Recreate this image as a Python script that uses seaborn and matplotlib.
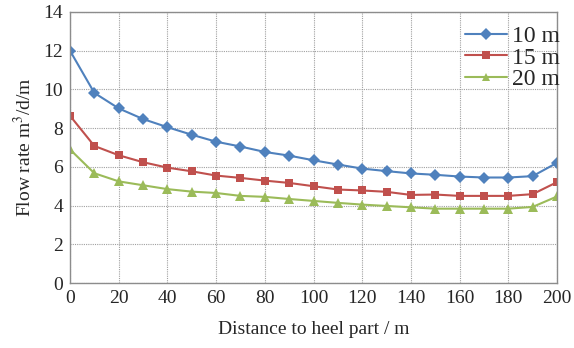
import matplotlib
matplotlib.use("Agg")
import matplotlib.pyplot as plt
import seaborn as sns
import pandas as pd

# --- data ---
distance = [0, 10, 20, 30, 40, 50, 60, 70, 80, 90, 100,
            110, 120, 130, 140, 150, 160, 170, 180, 190, 200]
flow_10m = [12.0, 9.82, 9.02, 8.47, 8.05, 7.66, 7.3, 7.05, 6.77, 6.58, 6.34,
            6.12, 5.91, 5.78, 5.66, 5.59, 5.5, 5.45, 5.45, 5.52, 6.21]
flow_15m = [8.64, 7.08, 6.6, 6.24, 5.96, 5.77, 5.55, 5.43, 5.29, 5.17, 5.0,
            4.83, 4.78, 4.71, 4.55, 4.57, 4.5, 4.5, 4.5, 4.59, 5.21]
flow_20m = [6.9, 5.67, 5.25, 5.05, 4.85, 4.72, 4.65, 4.5, 4.45, 4.34, 4.24,
            4.14, 4.05, 3.98, 3.91, 3.84, 3.84, 3.84, 3.84, 3.93, 4.47]
series_names = ["10 m", "15 m", "20 m"]

df = pd.DataFrame({"x": distance, "10 m": flow_10m, "15 m": flow_15m, "20 m": flow_20m})
long = df.melt(id_vars="x", var_name="series", value_name="flow")

sns.set_theme(style="white")
plt.rcParams['font.family'] = ['Liberation Serif', 'DejaVu Serif']
plt.rcParams['mathtext.fontset'] = 'stix'

fig = plt.figure(figsize=(5.74, 3.48), dpi=100)
ax = fig.add_axes([70/574, 1 - 283/348, (557-70)/574, (283-12)/348])

palette = {"10 m": "#4F81BD", "15 m": "#C0504D", "20 m": "#9BBB59"}
markers = {"10 m": "D", "15 m": "s", "20 m": "^"}
sns.lineplot(data=long, x="x", y="flow", hue="series", style="series",
             hue_order=series_names, style_order=series_names,
             palette=palette, markers=markers, dashes=False,
             markersize=6, markeredgewidth=0, linewidth=1.5, ax=ax)
# triangles look smaller at same size, bump them a bit
for ln in ax.lines:
    if ln.get_marker() == "^":
        ln.set_markersize(7.5)

ax.set_xlim(0, 200)
ax.set_ylim(0, 14)
ax.set_xticks(range(0, 201, 20))
ax.set_yticks(range(0, 15, 2))
ax.tick_params(labelsize=14, length=0, pad=5)
ax.grid(True, color="#a0a0a0", linestyle=(0, (1, 1)), linewidth=0.8)
for s in ax.spines.values():
    s.set_color("#8c8c8c")
    s.set_linewidth(1.0)

ax.set_xlabel("Distance to heel part / m", fontsize=14, labelpad=10)
ax.set_ylabel("Flow rate m$^3$/d/m", fontsize=14, labelpad=6)

leg = ax.legend(loc="upper right", frameon=False, fontsize=17,
                handlelength=1.8, handletextpad=0.2, labelspacing=0.0,
                borderaxespad=0.0, bbox_to_anchor=(1.025, 0.985))
leg.set_title(None)
for h in leg.legend_handles:
    h.set_markersize(6)

fig.savefig("out.png", dpi=100)
